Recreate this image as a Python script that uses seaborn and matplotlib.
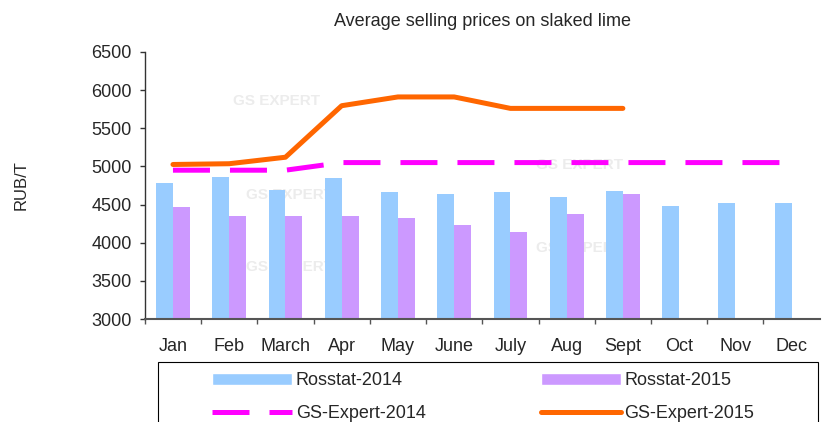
import numpy as np
import pandas as pd
import matplotlib
matplotlib.use("Agg")
import matplotlib.pyplot as plt
import seaborn as sns
from matplotlib.patches import Patch, Rectangle
from matplotlib.lines import Line2D

months = ["Jan", "Feb", "March", "Apr", "May", "June", "July", "Aug", "Sept", "Oct", "Nov", "Dec"]
rosstat_2014 = [4780, 4860, 4690, 4850, 4665, 4640, 4665, 4600, 4675, 4480, 4520, 4520]
rosstat_2015 = [4465, 4350, 4350, 4350, 4325, 4230, 4140, 4375, 4640]
gs_expert_2014 = [4950, 4950, 4950, 5050, 5050, 5050, 5050, 5050, 5050, 5050, 5050, 5050]
gs_expert_2015 = [5025, 5035, 5120, 5795, 5910, 5910, 5760, 5760, 5760]
y_ticks = [3000, 3500, 4000, 4500, 5000, 5500, 6000, 6500]

sns.set_style("white")
plt.rcParams["font.family"] = ["Liberation Sans", "DejaVu Sans"]

fig = plt.figure(figsize=(8.23, 4.22), dpi=100)
ax = fig.add_axes([0.176, 0.244, 0.82, 0.633])

bars = pd.DataFrame({
    "month": months * 2,
    "value": rosstat_2014 + rosstat_2015 + [np.nan] * (12 - len(rosstat_2015)),
    "series": ["Rosstat-2014"] * 12 + ["Rosstat-2015"] * 12,
})
sns.barplot(data=bars, x="month", y="value", hue="series", order=months,
            palette=["#99CCFF", "#CC99FF"], width=0.6, saturation=1,
            linewidth=0, legend=False, ax=ax)

# faint watermarks
for wx, wy in [(0.13, 0.8), (0.58, 0.56), (0.15, 0.18), (0.58, 0.25), (0.15, 0.45)]:
    ax.text(wx, wy, "GS EXPERT", transform=ax.transAxes, color="#ececec",
            fontsize=11, fontweight="bold", zorder=0.5)

x14 = np.arange(len(gs_expert_2014))
x15 = np.arange(len(gs_expert_2015))
ln14, = ax.plot(x14, gs_expert_2014, color="#FF00FF", lw=3.6, zorder=3)
ln14.set_dashes((7.4, 4))
ax.plot(x15, gs_expert_2015, color="#FF6600", lw=3.6, zorder=4,
        solid_capstyle="round")

ax.set_ylim(3000, 6500)
ax.set_xlim(-0.5, 11.5)
ax.set_yticks(y_ticks)
ax.set_xlabel("")
ax.set_ylabel("RUB/T", fontsize=12, labelpad=45)
ax.set_title("Average selling prices on slaked lime", fontsize=13, pad=19)

for s in ["top", "right"]:
    ax.spines[s].set_visible(False)
ax.spines["left"].set_color("#333333")
ax.spines["bottom"].set_color("#555555")
ax.spines["left"].set_linewidth(1)
ax.spines["bottom"].set_linewidth(1.5)

ax.tick_params(axis="y", which="major", length=3.6, width=1, color="#333333",
               direction="out", left=True, labelsize=13, pad=6)
ax.tick_params(axis="x", which="major", length=0, labelsize=13, pad=14)
ax.set_xticks(np.arange(-0.5, 11.5, 1), minor=True)
ax.tick_params(axis="x", which="minor", length=3.6, width=1, color="#555555",
               direction="out", bottom=True)

handles = [
    Patch(facecolor="#99CCFF", label="Rosstat-2014"),
    Line2D([], [], color="#FF00FF", lw=3.6, dashes=(7.4, 4), label="GS-Expert-2014"),
    Patch(facecolor="#CC99FF", label="Rosstat-2015"),
    Line2D([], [], color="#FF6600", lw=3.6, solid_capstyle="round", label="GS-Expert-2015"),
]
fig.legend(handles=handles, ncol=2, loc="upper left",
           bbox_to_anchor=(0.258, 0.118), frameon=False, borderaxespad=0,
           borderpad=0, fontsize=13, handlelength=4.4, handleheight=0.67,
           handletextpad=0.22, labelspacing=0.9, columnspacing=6.4)
fig.patches.append(Rectangle((0.192, -0.1), 0.802, 0.242, transform=fig.transFigure,
                             facecolor="none", edgecolor="black", linewidth=0.8))

fig.savefig("out.png", dpi=100)
